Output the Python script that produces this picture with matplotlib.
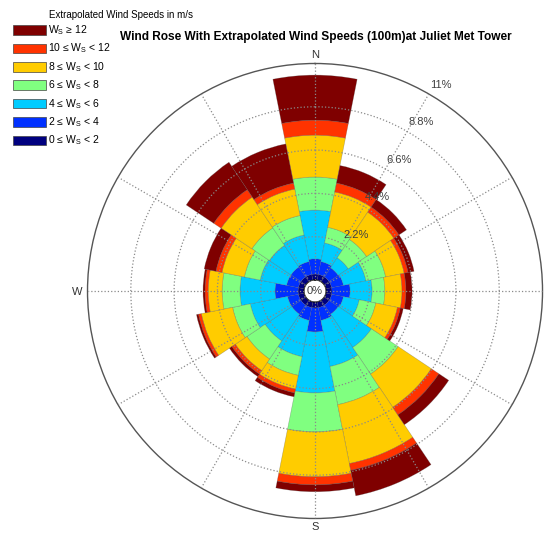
import numpy as np
import matplotlib
matplotlib.use('Agg')
import matplotlib.pyplot as plt
from matplotlib.patches import Rectangle, Circle

plt.rcParams['font.family'] = ['Liberation Sans', 'DejaVu Sans']
plt.rcParams['mathtext.fontset'] = 'custom'
plt.rcParams['mathtext.rm'] = 'Liberation Sans'
plt.rcParams['mathtext.it'] = 'Liberation Sans:italic'

directions = ['N', 'NNE', 'NE', 'ENE', 'E', 'ESE', 'SE', 'SSE',
              'S', 'SSW', 'SW', 'WSW', 'W', 'WNW', 'NW', 'NNW']
dir_deg = np.arange(16) * 22.5

# frequency (%) per speed bin, per direction (N clockwise)
ws_0_2 = [0.30, 0.30, 0.30, 0.30, 0.30, 0.30, 0.30, 0.30,
          0.30, 0.30, 0.30, 0.30, 0.30, 0.30, 0.30, 0.30]
ws_2_4 = [0.77, 0.66, 0.56, 0.61, 0.92, 0.61, 0.56, 0.66,
          1.22, 0.66, 0.56, 0.56, 1.17, 0.61, 0.61, 0.66]
ws_4_6 = [2.48, 0.97, 0.61, 1.17, 1.12, 0.82, 2.03, 2.39,
          3.10, 1.88, 1.63, 1.93, 1.78, 1.37, 1.32, 1.38]
ws_6_8 = [1.68, 0.81, 1.12, 1.02, 0.65, 0.86, 1.63, 1.98,
          1.98, 0.97, 1.11, 0.92, 0.91, 0.82, 1.07, 1.01]
ws_8_10 = [2.13, 1.83, 1.67, 0.96, 0.87, 1.12, 2.03, 3.05,
           2.28, 0.71, 0.71, 1.62, 0.71, 1.16, 1.88, 1.37]
ws_10_12 = [0.76, 0.46, 0.31, 0.20, 0.20, 0.15, 0.46, 0.35,
            0.41, 0.20, 0.21, 0.15, 0.16, 0.31, 0.45, 0.31]
ws_12_up = [2.29, 0.91, 0.46, 0.31, 0.31, 0.15, 0.60, 1.32,
            0.35, 0.20, 0.15, 0.10, 0.10, 0.61, 1.68, 2.03]

bins = [ws_0_2, ws_2_4, ws_4_6, ws_6_8, ws_8_10, ws_10_12, ws_12_up]
colors = ['#00007F', '#0030FF', '#00CCFF', '#80FF80', '#FFCC00', '#FF3300', '#7F0000']
labels = [r'0 ≤ $\mathrm{W_S}$ < 2', r'2 ≤ $\mathrm{W_S}$ < 4', r'4 ≤ $\mathrm{W_S}$ < 6',
          r'6 ≤ $\mathrm{W_S}$ < 8', r'8 ≤ $\mathrm{W_S}$ < 10', r'10 ≤ $\mathrm{W_S}$ < 12',
          r'$\mathrm{W_S}$ ≥ 12']

grid_vals = [2.2, 4.4, 6.6, 8.8]
grid_labels = ['2.2%', '4.4%', '6.6%', '8.8%', '11%']
rmax = 11.0
r_hole = 0.56

fig = plt.figure(figsize=(5.48, 5.33), dpi=100)
ax = fig.add_axes([0.1597, 0.0272, 0.8303, 0.8537], projection='polar')
ax.set_theta_zero_location('N')
ax.set_theta_direction(-1)

theta = np.deg2rad(dir_deg)
width = 2 * np.pi / 16
bottom = np.zeros(16)
for vals, c in zip(bins, colors):
    ax.bar(theta, vals, width=width, bottom=bottom, color=c,
           edgecolor=(0.3, 0.3, 0.3, 0.4), linewidth=0.4, zorder=1)
    bottom = bottom + np.array(vals)

ax.set_ylim(0, rmax)
ax.set_rorigin(-r_hole)
ax.set_rgrids(grid_vals, labels=[''] * len(grid_vals))
ax.set_thetagrids(range(0, 360, 30), labels=[''] * 12)
ax.set_axisbelow(False)
ax.grid(True, linestyle=':', color='#8a8a8a', linewidth=0.9)
ax.spines['polar'].set_color('#555555')
ax.spines['polar'].set_linewidth(1.0)
ax.spines['inner'].set_visible(False)

# white centre hole over the grid lines
ax.add_patch(Circle((0.5, 0.5), 0.5 * r_hole / (rmax + r_hole), transform=ax.transAxes,
                    facecolor='white', edgecolor='none', zorder=3))

for v, lbl in zip(grid_vals + [rmax], grid_labels):
    ax.annotate(lbl, xy=(np.deg2rad(30), v), xytext=(1, 3),
                textcoords='offset points', ha='left', va='bottom',
                fontsize=8, color='#404040', zorder=5)

ax.text(0.5, 0.5, '0%', transform=ax.transAxes, ha='center', va='center',
        fontsize=8, color='#404040', zorder=6)

fig.text(315 / 548, 1 - 55 / 533, 'N', ha='center', va='center', fontsize=8, color='#333333')
fig.text(315 / 548, 1 - 527 / 533, 'S', ha='center', va='center', fontsize=8, color='#333333')
fig.text(77 / 548, 1 - 292 / 533, 'W', ha='center', va='center', fontsize=8, color='#333333')

fig.text(0.5758, 1 - 37 / 533, 'Wind Rose With Extrapolated Wind Speeds (100m)at Juliet Met Tower',
         ha='center', va='center', fontsize=8.6, fontweight='bold')

# legend
fig.text(49 / 548, 1 - 15 / 533, 'Extrapolated Wind Speeds in m/s', ha='left', va='center', fontsize=7)
for i in range(7):
    k = 6 - i
    yc = 30 + i * 18.4
    fig.patches.append(Rectangle((13 / 548, 1 - (yc + 4.8) / 533), 33 / 548, 9.6 / 533,
                                 transform=fig.transFigure, facecolor=colors[k],
                                 edgecolor='#444444', linewidth=0.5))
    fig.text(48 / 548, 1 - yc / 533, labels[k], ha='left', va='center', fontsize=7.5)

fig.savefig('out.png', dpi=100)
